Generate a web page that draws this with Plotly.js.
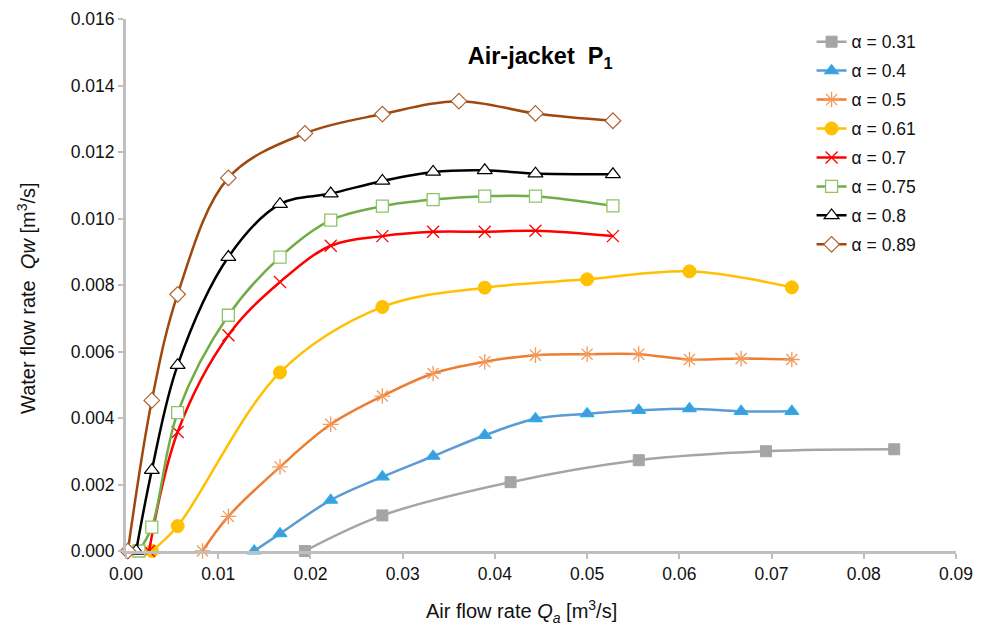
<!DOCTYPE html>
<html>
<head>
<meta charset="utf-8">
<script src="https://cdn.plot.ly/plotly-3.0.1.min.js"></script>
<style>html,body{margin:0;padding:0;background:#fff;}#chart{width:986px;height:626px;}</style>
</head>
<body>
<div id="chart"></div>
<script>
// Air flow rate Qa [m3/s] and water flow rate Qw [m3/s] per submergence ratio α
const labels = ["α = 0.31","α = 0.4","α = 0.5","α = 0.61","α = 0.7","α = 0.75","α = 0.8","α = 0.89"];

const x031 = [0.0194, 0.0278, 0.0417, 0.0556, 0.0694, 0.0833];
const y031 = [0, 0.00107, 0.00207, 0.00273, 0.00300, 0.00306];

const x04 = [0.0139, 0.0167, 0.0222, 0.0278, 0.0333, 0.0389, 0.0444, 0.0500, 0.0556, 0.0611, 0.0667, 0.0722];
const y04 = [0, 0.00052, 0.00153, 0.00223, 0.00285, 0.00348, 0.00398, 0.00413, 0.00423, 0.00428, 0.00420, 0.00420];

const x05 = [0.0083, 0.0111, 0.0167, 0.0222, 0.0278, 0.0333, 0.0389, 0.0444, 0.0500, 0.0556, 0.0611, 0.0667, 0.0722];
const y05 = [0, 0.00104, 0.00253, 0.00381, 0.00466, 0.00534, 0.00569, 0.00589, 0.00592, 0.00592, 0.00576, 0.00579, 0.00576];

const x061 = [0.0028, 0.0056, 0.0167, 0.0278, 0.0389, 0.0500, 0.0611, 0.0722];
const y061 = [0, 0.00075, 0.00537, 0.00734, 0.00792, 0.00817, 0.00841, 0.00793];

const x07 = [0.0025, 0.0056, 0.0111, 0.0167, 0.0222, 0.0278, 0.0333, 0.0389, 0.0444, 0.0528];
const y07 = [0, 0.00358, 0.00649, 0.00809, 0.00918, 0.00947, 0.00960, 0.00960, 0.00963, 0.00947];

const x075 = [0.0014, 0.0028, 0.0056, 0.0111, 0.0167, 0.0222, 0.0278, 0.0333, 0.0389, 0.0444, 0.0528];
const y075 = [0, 0.00072, 0.00416, 0.00709, 0.00884, 0.00995, 0.01037, 0.01057, 0.01067, 0.01067, 0.01038];

const x08 = [0.0011, 0.0028, 0.0056, 0.0111, 0.0167, 0.0222, 0.0278, 0.0333, 0.0389, 0.0444, 0.0528];
const y08 = [0, 0.00243, 0.00559, 0.00884, 0.01043, 0.01075, 0.01113, 0.01140, 0.01145, 0.01135, 0.01133];

const x089 = [0.0002, 0.0028, 0.0056, 0.0111, 0.0194, 0.0278, 0.0361, 0.0444, 0.0528];
const y089 = [0, 0.00453, 0.00772, 0.01122, 0.01256, 0.01314, 0.01353, 0.01316, 0.01294];

const chartTitle = '<b>Air-jacket  P<sub>1</sub></b>';
const xTitle = 'Air flow rate <i>Q<sub>a</sub></i> [m<sup>3</sup>/s]';
const yTitle = 'Water flow rate  <i>Qw</i> [m<sup>3</sup>/s]';

const xs = [x031, x04, x05, x061, x07, x075, x08, x089];
const ys = [y031, y04, y05, y061, y07, y075, y08, y089];

const styles = [
  {line:'#A5A5A5', symbol:'square', size:11, fill:'#A5A5A5', mline:'#A5A5A5', mw:1},
  {line:'#5B9BD5', symbol:'triangle-up', size:12, fill:'#4A98D6', mline:'#1EB4F0', mw:1.2},
  {line:'#ED7D31', symbol:'asterisk-open', size:13, fill:'#F29A5C', mline:'#F29A5C', mw:1.3},
  {line:'#FFC000', symbol:'circle', size:13, fill:'#FFC000', mline:'#FFC000', mw:1},
  {line:'#FF0000', symbol:'x-thin-open', size:12, fill:'#FF0000', mline:'#FF0000', mw:1.3},
  {line:'#70AD47', symbol:'square', size:12, fill:'#FFFFFF', mline:'#8DC46A', mw:1.3},
  {line:'#000000', symbol:'triangle-up', size:13, fill:'#FFFFFF', mline:'#000000', mw:1.2},
  {line:'#9E480E', symbol:'diamond', size:12, fill:'#FFFFFF', mline:'#B0602A', mw:1.2}
];

const traces = labels.map((name, i) => ({
  type: 'scatter',
  mode: 'lines+markers',
  name: name,
  legendgroup: 'g' + i,
  x: xs[i],
  y: ys[i],
  cliponaxis: false,
  line: {color: styles[i].line, width: 2.5, shape: 'spline', smoothing: 1},
  marker: {symbol: styles[i].symbol, size: styles[i].size, color: styles[i].fill,
           line: {color: styles[i].mline, width: styles[i].mw}}
}));

const FONT = 'Liberation Sans, Arial, sans-serif';

const axisCommon = {
  showgrid: false,
  zeroline: false,
  showline: true,
  linecolor: '#BFBFBF',
  linewidth: 3,
  ticks: 'outside',
  ticklen: 5,
  tickwidth: 2,
  tickcolor: '#BFBFBF',
  tickfont: {family: FONT, size: 17.5, color: '#111'}
};

const layout = {
  width: 986,
  height: 626,
  paper_bgcolor: '#ffffff',
  plot_bgcolor: '#ffffff',
  margin: {l: 126, r: 30, t: 19, b: 75},
  font: {family: FONT, color: '#111'},
  title: {
    text: chartTitle,
    font: {family: FONT, size: 23.5, color: '#000'},
    xref: 'paper', x: 0.499, xanchor: 'center',
    yref: 'container', y: 1 - 56/626, yanchor: 'middle'
  },
  xaxis: Object.assign({}, axisCommon, {range: [0, 0.09], dtick: 0.01, tickformat: '.2f'}),
  yaxis: Object.assign({}, axisCommon, {range: [0, 0.016], dtick: 0.002, tickformat: '.3f'}),
  annotations: [
    {text: xTitle, xref: 'paper', yref: 'paper', x: (521 - 126) / 830, y: -(611 - 551) / 532,
     xanchor: 'center', yanchor: 'middle', showarrow: false,
     font: {family: FONT, size: 20, color: '#111'}},
    {text: yTitle, xref: 'paper', yref: 'paper', x: -(126 - 26) / 830, y: (551 - 298) / 532,
     xanchor: 'center', yanchor: 'middle', showarrow: false, textangle: -90,
     font: {family: FONT, size: 20, color: '#111'}}
  ],
  showlegend: true,
  legend: {
    x: 0.826, xanchor: 'left',
    y: 0.991, yanchor: 'top',
    traceorder: 'grouped',
    tracegroupgap: 3.2,
    bgcolor: 'rgba(255,255,255,0)',
    font: {family: FONT, size: 17.5, color: '#111'},
    itemwidth: 30
  }
};

Plotly.newPlot('chart', traces, layout, {displayModeBar: false, staticPlot: true});
</script>
</body>
</html>
